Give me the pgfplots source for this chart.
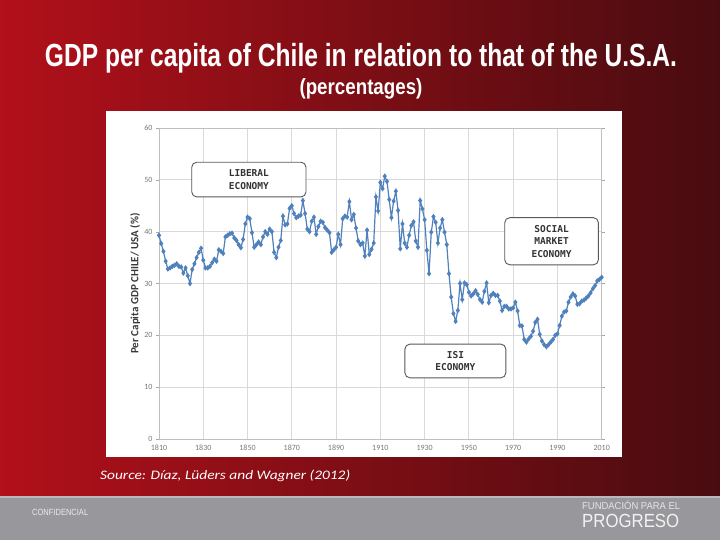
\documentclass[border=0pt]{standalone}
\usepackage{fontspec}
\setmainfont{Carlito}
\newfontfamily\boxfont{DejaVu Sans Mono}
\newfontfamily\titlefont{Liberation Sans}
\usepackage{graphicx}
\usepackage{pgfplots}
\pgfplotsset{compat=1.18}

\definecolor{redleft}{RGB}{178,16,26}
\definecolor{redmid}{RGB}{116,14,20}
\definecolor{redright}{RGB}{72,12,16}
\definecolor{bandgray}{RGB}{152,152,156}
\definecolor{linegray}{RGB}{185,185,189}
\definecolor{seriesblue}{RGB}{79,129,189}
\definecolor{labgray}{RGB}{56,56,56}
\definecolor{tickgray}{RGB}{120,120,120}

% Chile GDP per capita as % of USA
\pgfplotstableread{
year value
1810 39.3
1811 37.7
1812 36.2
1813 34.3
1814 32.8
1815 33.0
1816 33.3
1817 33.5
1818 33.8
1819 33.3
1820 33.2
1821 32.0
1822 33.0
1823 31.5
1824 30.0
1825 32.7
1826 33.8
1827 35.0
1828 36.0
1829 36.8
1830 34.5
1831 33.0
1832 33.0
1833 33.3
1834 34.0
1835 34.7
1836 34.3
1837 36.5
1838 36.2
1839 35.8
1840 39.0
1841 39.3
1842 39.6
1843 39.7
1844 38.8
1845 38.3
1846 37.5
1847 36.9
1848 38.5
1849 41.5
1850 42.8
1851 42.5
1852 39.8
1853 37.0
1854 37.5
1855 38.0
1856 37.5
1857 39.0
1858 40.0
1859 39.5
1860 40.5
1861 40.0
1862 36.0
1863 35.0
1864 37.0
1865 38.3
1866 43.0
1867 41.3
1868 41.5
1869 44.5
1870 45.0
1871 43.5
1872 42.7
1873 43.0
1874 43.2
1875 46.0
1876 43.5
1877 40.5
1878 40.0
1879 42.0
1880 42.8
1881 39.5
1882 41.0
1883 42.0
1884 41.8
1885 40.8
1886 40.3
1887 39.8
1888 36.0
1889 36.5
1890 37.0
1891 39.5
1892 37.5
1893 42.5
1894 43.0
1895 42.8
1896 45.8
1897 42.3
1898 43.3
1899 40.7
1900 38.2
1901 37.5
1902 37.8
1903 35.3
1904 40.3
1905 35.6
1906 36.6
1907 37.8
1908 46.7
1909 44.0
1910 49.5
1911 48.3
1912 50.7
1913 49.7
1914 46.2
1915 42.7
1916 45.9
1917 47.8
1918 44.1
1919 36.7
1920 41.5
1921 37.8
1922 37.0
1923 39.3
1924 41.2
1925 41.9
1926 38.2
1927 37.0
1928 46.0
1929 44.4
1930 42.3
1931 36.4
1932 31.9
1933 39.9
1934 42.9
1935 41.8
1936 37.8
1937 40.7
1938 42.3
1939 39.9
1940 37.5
1941 31.9
1942 27.4
1943 24.2
1944 22.7
1945 24.8
1946 30.0
1947 26.9
1948 30.1
1949 29.8
1950 28.3
1951 27.6
1952 28.0
1953 28.6
1954 27.9
1955 26.9
1956 26.4
1957 28.5
1958 30.1
1959 26.3
1960 27.7
1961 28.1
1962 27.7
1963 27.7
1964 26.6
1965 24.8
1966 25.6
1967 25.6
1968 25.1
1969 25.1
1970 25.3
1971 26.4
1972 24.7
1973 21.9
1974 21.8
1975 19.2
1976 18.7
1977 19.3
1978 19.8
1979 20.8
1980 22.5
1981 23.1
1982 20.2
1983 18.9
1984 18.2
1985 17.8
1986 18.2
1987 18.7
1988 19.2
1989 20.0
1990 20.3
1991 21.9
1992 23.7
1993 24.5
1994 24.7
1995 26.4
1996 27.4
1997 28.0
1998 27.6
1999 26.0
2000 26.1
2001 26.6
2002 26.8
2003 27.2
2004 27.6
2005 28.2
2006 29.0
2007 29.6
2008 30.5
2009 30.8
2010 31.2
}\chiledata

\begin{document}
\begin{tikzpicture}[x=1pt,y=1pt]
\useasboundingbox (0,0) rectangle (720,540);
% slide background
\shade[left color=redleft, middle color=redmid, right color=redright] (0,0) rectangle (720,540);
\fill[bandgray] (0,0) rectangle (720,43);
\draw[linegray, line width=1.5pt] (0,43) -- (720,43);
% white chart panel
\fill[white] (106,83) rectangle (622,429);

% titles
\node[anchor=base, text=white, inner sep=0pt] at (361,473)
  {\resizebox{632pt}{\height}{\titlefont\bfseries\fontsize{32pt}{36pt}\selectfont GDP per capita of Chile in relation to that of the U.S.A.}};
\node[anchor=base, text=white, inner sep=0pt] at (361,445)
  {\resizebox{123pt}{\height}{\titlefont\bfseries\fontsize{22pt}{26pt}\selectfont (percentages)}};

% footer texts
\node[anchor=base west, text=white, inner sep=0pt] at (100,60)
  {\resizebox{250pt}{\height}{\itshape\fontsize{13pt}{15pt}\selectfont Source: Díaz, Lüders and Wagner (2012)}};
\node[anchor=base west, text=white!92!black, inner sep=0pt] at (32,24)
  {\resizebox{56pt}{\height}{\titlefont\fontsize{9pt}{10pt}\selectfont CONFIDENCIAL}};
\node[anchor=base west, text=white!90!black, inner sep=0pt] at (582,30)
  {\resizebox{98pt}{\height}{\titlefont\fontsize{10pt}{11pt}\selectfont FUNDACIÓN PARA EL}};
\node[anchor=base west, text=white!95!black, inner sep=0pt] at (582,12)
  {\resizebox{97pt}{\height}{\titlefont\fontsize{19pt}{20pt}\selectfont PROGRESO}};

\begin{axis}[
    at={(159pt,101pt)}, anchor=south west,
    scale only axis, width=442.7pt, height=311pt,
    xmin=1810, xmax=2010, ymin=0, ymax=60,
    xtick={1810,1830,...,2010}, ytick={0,10,...,60},
    grid=major,
    major grid style={color=black!15, line width=0.8pt},
    axis line style={color=black!25, line width=0.8pt},
    tick style={color=black!35},
    tick align=outside, major tick length=3pt,
    xtick style={draw=none},
    ticklabel style={font=\fontsize{8pt}{8pt}\selectfont, text=tickgray},
    /pgf/number format/assume math mode=true,
    xticklabel style={/pgf/number format/1000 sep=},
    ylabel={Per Capita GDP CHILE/ USA (\%)},
    ylabel style={at={(axis description cs:-0.054,0.5)}, anchor=center,
      font=\bfseries\fontsize{11pt}{12pt}\selectfont, text=labgray},
    clip=false,
]
\addplot[color=seriesblue, line width=1.2pt, mark=diamond*, mark size=1.8pt,
  mark options={fill=seriesblue}] table[x=year, y=value] {\chiledata};

\draw[black!65, line width=0.9pt, rounded corners=5pt, fill=white]
  (axis cs:1824.8,46.7) rectangle (axis cs:1876.4,53.4);
\node[align=center, font=\boxfont\bfseries\fontsize{9.5pt}{12.5pt}\selectfont, text=black!80]
  at (axis cs:1850.6,50.05) {LIBERAL\\ECONOMY};
\draw[black!65, line width=0.9pt, rounded corners=5pt, fill=white]
  (axis cs:1966.2,33.6) rectangle (axis cs:2008.5,42.7);
\node[align=center, font=\boxfont\bfseries\fontsize{9.5pt}{12.5pt}\selectfont, text=black!80]
  at (axis cs:1987.35,38.15) {SOCIAL\\MARKET\\ECONOMY};
\draw[black!65, line width=0.9pt, rounded corners=5pt, fill=white]
  (axis cs:1921.1,11.8) rectangle (axis cs:1966.7,18.3);
\node[align=center, font=\boxfont\bfseries\fontsize{9.5pt}{12.5pt}\selectfont, text=black!80]
  at (axis cs:1943.9,15.05) {ISI\\ECONOMY};
\end{axis}
\end{tikzpicture}
\end{document}
